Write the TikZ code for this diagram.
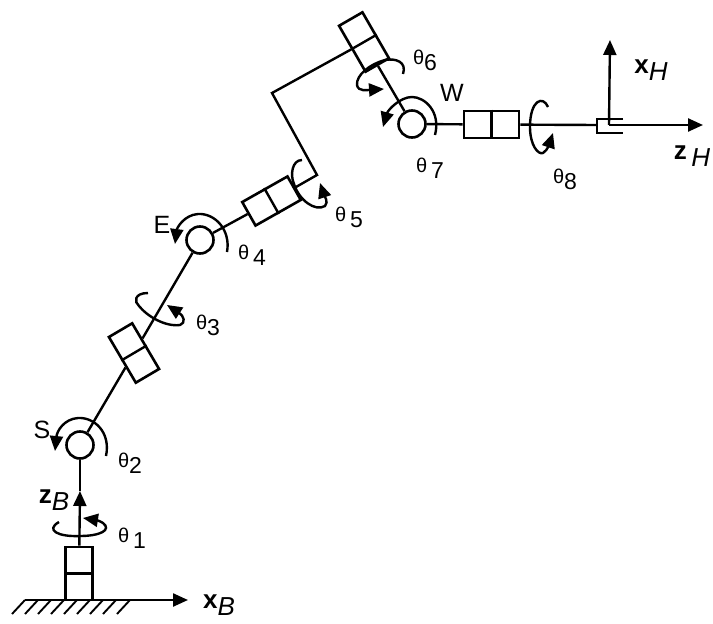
\documentclass[tikz,border=0pt]{standalone}
\usepackage{fontspec}
\setmainfont{Liberation Sans}
\usetikzlibrary{arrows.meta}
\tikzset{
    link/.style={line width=2.4pt},
    axis/.style={line width=2.4pt, -{Triangle[length=15pt,width=13pt]}},
    turn/.style={line width=2.4pt, -{Triangle[length=15pt,width=13pt]}},
    joint/.style={circle, draw, line width=2.6pt, fill=white, inner sep=0pt, minimum size=27pt},
    linkbox/.style={rectangle, draw, line width=2.6pt, fill=white, inner sep=0pt, minimum width=#1, minimum height=27pt},
    lab/.style={inner sep=0pt, font=\fontsize{25}{25}\selectfont},
    anglab/.style={inner sep=0pt, font=\fontsize{23}{23}\selectfont},
    axlab/.style={inner sep=0pt, font=\fontsize{26}{26}\selectfont},
}
\newcommand{\ang}[1]{{\fontsize{20}{20}\selectfont θ}\raisebox{-6pt}{#1}}
\newcommand{\axs}[2]{\textbf{#1}\raisebox{-7pt}{\textit{#2}}}
\begin{document}
\begin{tikzpicture}[x=1pt, y=-1pt]
    \useasboundingbox (0,0) rectangle (713,624);

    % joints and link boxes
    \node [joint] (S) at (80,445) {};
    \node [joint] (E) at (200,240) {};
    \node [joint] (W) at (412,124) {};
    \node [linkbox=53pt, rotate=90] (boxbase) at (79,573.5) {};
    \node [linkbox=53pt, rotate=-59.5] (boxthree) at (134,353) {};
    \node [linkbox=52pt, rotate=29.5] (boxfive) at (271.5,201) {};
    \node [linkbox=53pt, rotate=-60] (boxsix) at (364,42) {};
    \node [linkbox=55pt] (boxeight) at (491.5,124.5) {};
    \draw [link] (boxbase.north) -- (boxbase.south);
    \draw [link] (boxthree.north) -- (boxthree.south);
    \draw [link] (boxfive.north) -- (boxfive.south);
    \draw [link] (boxsix.north) -- (boxsix.south);
    \draw [link] (boxeight.north) -- (boxeight.south);

    % links
    \coordinate (elbow) at (317,175);
    \coordinate (corner) at (272,93);
    \coordinate (palm) at (597,125);
    \draw [link] (S) -- (boxthree);
    \draw [link] (boxthree) -- (E);
    \draw [link] (E) -- (boxfive);
    \draw [link] (boxfive) -- (elbow) -- (corner) -- (boxsix.south);
    \draw [link] (boxsix) -- (W);
    \draw [link] (W) -- (boxeight);
    \draw [link] (boxeight) -- (palm);

    % gripper
    \draw [link] (623,119) -- (597,119) -- (597,133) -- (623,133);

    % base frame
    \coordinate (groundl) at (25,600);
    \coordinate (xtip) at (188,600);
    \coordinate (ztip) at (80,491);
    \draw [axis] (groundl) -- (xtip);
    \draw [axis] (boxbase) -- (ztip);
    \draw [link] (ztip) -- (S);
    \foreach \x in {25,38,51,64,77,90,103,116,130}
        \draw [line width=1.9pt] (\x,600) -- (\x-13,614);

    % hand frame
    \coordinate (hand) at (609,125);
    \coordinate (xhtip) at (610,40);
    \coordinate (zhtip) at (703,125);
    \draw [axis] (hand) -- (xhtip);
    \draw [axis] (hand) -- (zhtip);

    % rotations
    \draw [turn] (59,522) .. controls (45,530) and (58,537) .. (80,536) .. controls (100,536) and (112,530) .. (103,523) .. controls (100,521) and (96,520) .. (83,518);
    \draw [turn] (106,456) .. controls (111,432) and (94,417) .. (78,418) .. controls (64,419) and (57,431) .. (55,451);
    \draw [turn] (148,293) .. controls (134,293) and (134,302) .. (139,306) .. controls (147,316) and (165,327) .. (180,325) .. controls (186,323) and (184,316) .. (167,305);
    \draw [turn] (227,252) .. controls (231,230) and (215,213) .. (198,214) .. controls (184,215) and (177,228) .. (175,244);
    \draw [turn] (302,160) .. controls (292,160) and (290,175) .. (294,184) .. controls (299,200) and (315,212) .. (325,206) .. controls (329,202) and (324,195) .. (320,183);
    \draw [turn] (403,74) .. controls (407,62) and (396,58) .. (385,60) .. controls (370,64) and (356,75) .. (357,85) .. controls (358,92) and (368,90) .. (384,89);
    \draw [turn] (435,135) .. controls (441,112) and (425,97) .. (412,97) .. controls (400,97) and (388,110) .. (383,127);
    \draw [turn] (548,107) .. controls (543,95) and (530,100) .. (530,127) .. controls (530,145) and (538,155) .. (543,153) .. controls (548,150) and (550,142) .. (553,133);

    % labels
    \node [lab] (labs) at (42,430) {S};
    \node [lab] (labe) at (162,225) {E};
    \node [lab] (labw) at (452,93) {W};
    \node [anglab] (labt1) at (132,538) {\ang{\,1}};
    \node [anglab] (labt2) at (130,463) {\ang{2}};
    \node [anglab] (labt3) at (208,325) {\ang{3}};
    \node [anglab] (labt4) at (252,255) {\ang{\,4}};
    \node [anglab] (labt5) at (349,217) {\ang{\,5}};
    \node [anglab] (labt6) at (425,60) {\ang{6}};
    \node [anglab] (labt7) at (430,168) {\ang{\,7}};
    \node [anglab] (labt8) at (565,179) {\ang{8}};
    \node [axlab] (labzb) at (54,500) {\axs{z}{B}};
    \node [axlab] (labxb) at (219,605) {\axs{x}{B}};
    \node [axlab] (labxh) at (651,70) {\axs{x}{H}};
    \node [axlab] (labzh) at (692,156) {\axs{z}{\,H}};
\end{tikzpicture}
\end{document}
